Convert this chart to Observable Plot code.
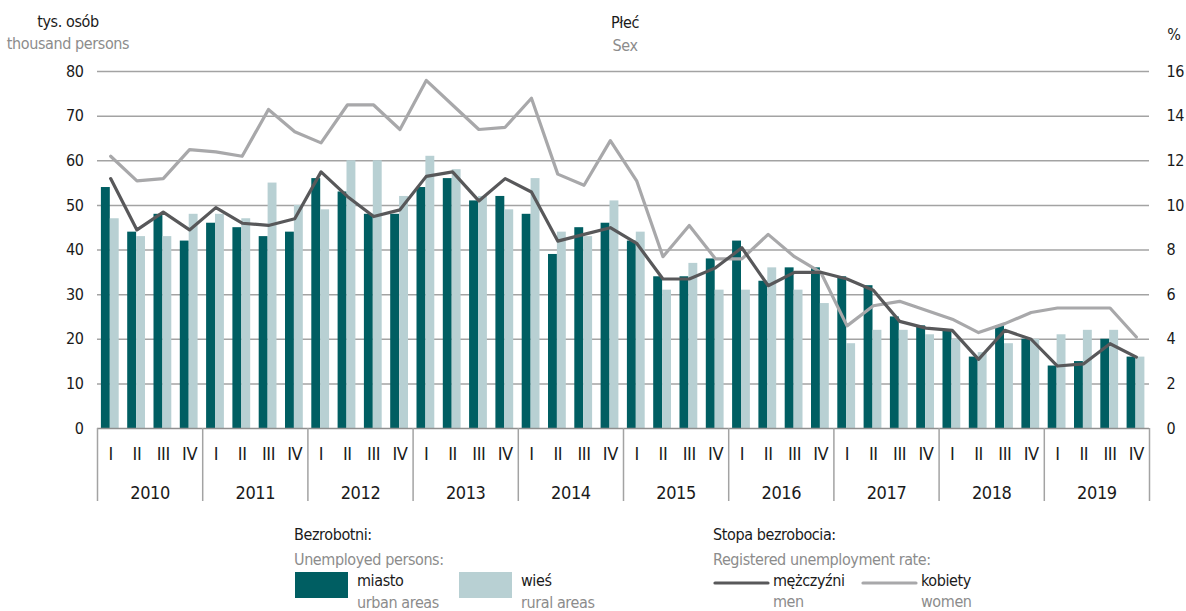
<!DOCTYPE html>
<html>
<head>
<meta charset="utf-8">
<script src="https://cdn.jsdelivr.net/npm/d3@7"></script>
<script src="https://cdn.jsdelivr.net/npm/@observablehq/plot@0.6"></script>
<style>
  body { margin: 0; background: #fff; }
  #wrap { width: 1186px; height: 611px; overflow: hidden; font-family: "Liberation Sans Narrow", "DejaVu Sans Condensed", "Roboto", sans-serif; letter-spacing: -0.4px; }
  #wrap svg { display: block; }
</style>
</head>
<body>
<div id="wrap"></div>
<script>
// ---- data ----
const years = [2010, 2011, 2012, 2013, 2014, 2015, 2016, 2017, 2018, 2019];
const quarters = ["I", "II", "III", "IV"];
// unemployed persons, thousand
const urban = [54,44,48,42, 46,45,43,44, 56,53,48,48, 54,56,51,52, 48,39,45,46, 42,34,34,38, 42,33,36,36, 34,32,25,23, 22,16,23,20, 14,15,20,16];
const rural = [47,43,43,48, 48,47,55,50, 49,60,60,52, 61,58,52,49, 56,44,43,51, 44,31,37,31, 31,36,31,28, 19,22,22,21, 20,17,19,20, 21,22,22,16];
// registered unemployment rate, %
const men   = [11.2,8.9,9.7,8.9, 9.9,9.2,9.1,9.4, 11.5,10.4,9.5,9.8, 11.3,11.5,10.2,11.2, 10.6,8.4,8.7,9.0, 8.3,6.7,6.7,7.2, 8.1,6.4,7.0,7.0, 6.7,6.2,4.8,4.5, 4.4,3.1,4.4,4.0, 2.8,2.9,3.8,3.2];
const women = [12.2,11.1,11.2,12.5, 12.4,12.2,14.3,13.3, 12.8,14.5,14.5,13.4, 15.6,14.5,13.4,13.5, 14.8,11.4,10.9,12.9, 11.1,7.7,9.1,7.6, 7.6,8.7,7.7,7.0, 4.6,5.5,5.7,5.3, 4.9,4.3,4.7,5.2, 5.4,5.4,5.4,4.1];
const leftTicks = [0, 10, 20, 30, 40, 50, 60, 70, 80];
const rateFactor = 5; // 80 thousand on left axis = 16 % on right axis

const colors = { urban: "#005e62", rural: "#b8d0d3", men: "#58585a", women: "#a8a8aa" };
const labels = {
  yLeft: ["tys. osób", "thousand persons"],
  center: ["Płeć", "Sex"],
  yRight: "%",
  barsTitle: ["Bezrobotni:", "Unemployed persons:"],
  linesTitle: ["Stopa bezrobocia:", "Registered unemployment rate:"],
  urban: ["miasto", "urban areas"],
  rural: ["wieś", "rural areas"],
  men: ["mężczyźni", "men"],
  women: ["kobiety", "women"]
};

// ---- table built from the arrays ----
const rows = [];
years.forEach((yr, yi) => quarters.forEach((q, qi) => {
  const i = yi * 4 + qi;
  rows.push({ key: yr + "-" + q, year: yr, q, urban: urban[i], rural: rural[i], men: men[i], women: women[i] });
}));
const keys = rows.map(d => d.key);

const W = 1186, H = 511;
const mL = 97, mR = 37, mT = 71, mB = 83;
const bw = (W - mL - mR) / keys.length;
const dark = "#1a1a1a", grey = "#8c8c8c";
const FS = 16;

const plot = Plot.plot({
  width: W, height: H,
  marginLeft: mL, marginRight: mR, marginTop: mT, marginBottom: mB,
  style: { fontFamily: "inherit", fontSize: FS + "px", color: dark, background: "#fff" },
  x: { type: "band", domain: keys, paddingInner: 0, paddingOuter: 0, round: false, axis: null },
  y: { domain: [0, 80], axis: null },
  marks: [
    Plot.gridY({ ticks: leftTicks.filter(t => t > 0), stroke: "#a3a3a3", strokeOpacity: 1, strokeWidth: 1.5 }),
    Plot.barY(rows, { x: "key", y: "urban", fill: colors.urban, insetLeft: 3.9, insetRight: bw - 12.8 }),
    Plot.barY(rows, { x: "key", y: "rural", fill: colors.rural, insetLeft: 12.8, insetRight: bw - 21.7 }),
    Plot.ruleY([0], { stroke: "#8f8f8f", strokeWidth: 1.5 }),
    Plot.line(rows, { x: "key", y: d => d.women * rateFactor, stroke: colors.women, strokeWidth: 3.2 }),
    Plot.line(rows, { x: "key", y: d => d.men * rateFactor, stroke: colors.men, strokeWidth: 3.2 }),
    Plot.axisY({ anchor: "left", ticks: leftTicks, tickSize: 0, tickPadding: 14, label: null, fontSize: FS }),
    Plot.axisY({ anchor: "right", ticks: leftTicks, tickSize: 0, tickPadding: 17, label: null, fontSize: FS,
                 tickFormat: d => String(d / rateFactor) }),
    // year separators below the zero line
    Plot.ruleX(years.map(y => y + "-I"), { x: d => d, dx: -bw / 2, stroke: "#a3a3a3", strokeWidth: 1.5,
               insetTop: H - mT - mB, insetBottom: -73 }),
    Plot.ruleX([keys[keys.length - 1]], { x: d => d, dx: bw / 2, stroke: "#a3a3a3", strokeWidth: 1.5,
               insetTop: H - mT - mB, insetBottom: -73 }),
    // quarter labels
    Plot.text(rows, { x: "key", text: "q", frameAnchor: "bottom", dy: 26, lineAnchor: "middle", fontSize: 18, fill: dark }),
    // year labels
    Plot.text(years, { x: d => d + "-II", text: d => String(d), dx: bw / 2, frameAnchor: "bottom", dy: 65,
                       lineAnchor: "middle", fontSize: 18, fill: dark })
  ]
});

const wrap = document.getElementById("wrap");
wrap.appendChild(plot);

// header texts in the top margin of the chart
const svg = d3.select(plot);
function addText(sel, x, y, txt, fill, anchor) {
  sel.append("text").attr("x", x).attr("y", y).attr("text-anchor", anchor || "start")
    .attr("fill", fill).attr("font-size", FS).attr("font-family", "inherit").text(txt);
}
addText(svg, 68, 27, labels.yLeft[0], dark, "middle");
addText(svg, 68, 49, labels.yLeft[1], grey, "middle");
addText(svg, 625, 28, labels.center[0], dark, "middle");
addText(svg, 625, 51, labels.center[1], grey, "middle");
addText(svg, 1174, 40, labels.yRight, dark, "middle");

// legend below the chart
const leg = d3.select(wrap).append("svg").attr("width", W).attr("height", 100)
  .style("font-family", "inherit");
const oy = -H; // convert page y to legend y
addText(leg, 294, 540 + oy, labels.barsTitle[0], dark);
addText(leg, 294, 565 + oy, labels.barsTitle[1], grey);
[["urban", 295], ["rural", 459]].forEach(([k, x]) => {
  leg.append("rect").attr("x", x).attr("y", 572 + oy).attr("width", 53).attr("height", 26).attr("fill", colors[k]);
  addText(leg, x + 62, 586 + oy, labels[k][0], dark);
  addText(leg, x + 62, 608 + oy, labels[k][1], grey);
});
addText(leg, 713, 540 + oy, labels.linesTitle[0], dark);
addText(leg, 713, 565 + oy, labels.linesTitle[1], grey);
[["men", 715], ["women", 863]].forEach(([k, x]) => {
  leg.append("line").attr("x1", x).attr("x2", x + 53).attr("y1", 583 + oy).attr("y2", 583 + oy)
    .attr("stroke", colors[k]).attr("stroke-width", 3.2).attr("stroke-linecap", "round");
  addText(leg, x + 58, 586 + oy, labels[k][0], dark);
  addText(leg, x + 58, 607 + oy, labels[k][1], grey);
});
</script>
</body>
</html>
